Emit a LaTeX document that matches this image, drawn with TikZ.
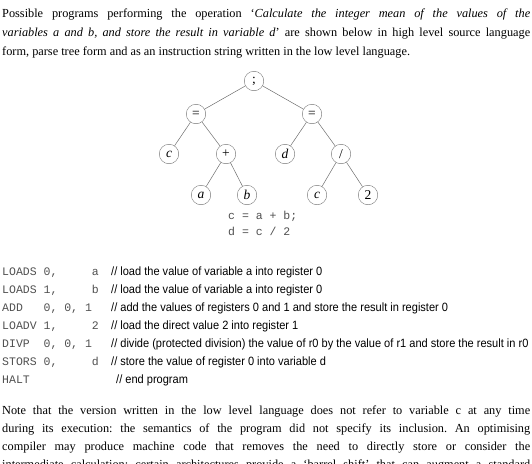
\documentclass[tikz,border=0pt]{standalone}
\usepackage{fontspec}
\setmainfont{Liberation Serif}
\setmonofont{Liberation Mono}
\newfontfamily\notefont[FakeStretch=0.92]{Liberation Sans}
\usetikzlibrary{positioning}
\definecolor{TreeGray}{RGB}{110,110,110}
\definecolor{CodeGray}{RGB}{80,80,80}

\begin{document}
\begin{tikzpicture}[x=1pt,y=-1pt,
        para/.style={anchor=base west,inner sep=0pt,text width=528pt,align=justify,
                     font=\fontsize{12.3}{19.2}\selectfont\frenchspacing},
        vertex/.style={circle,draw=TreeGray,inner sep=0pt,minimum size=19.5pt,
                       font=\fontsize{13.5}{13.5}\selectfont},
        edge/.style={draw=TreeGray,line width=0.5pt},
        code/.style={anchor=base west,inner sep=0pt,text=CodeGray,
                     font=\ttfamily\fontsize{11.5}{12}\selectfont},
        remark/.style={anchor=base west,inner sep=0pt,
                       font=\notefont\fontsize{12}{12}\selectfont}
      ]
        \useasboundingbox (0,0) rectangle (532,463);
        \clip (0,0) rectangle (532,463);

        % opening paragraph
        \node[para] (intro) at (2,17) {Possible programs performing the operation
          ‘\textit{Calculate the integer mean of the values of the}\linebreak
          \textit{variables a and b, and store the result in variable d}’ are shown below
          in high level source language\linebreak
          form, parse tree form and as an instruction string written in the low level language.};

        % parse tree
        \node[vertex] (seq) at (254,81) {;};
        \node[vertex] (eqL) at (196,114) {=};
        \node[vertex] (eqR) at (312,114) {=};
        \node[vertex] (c1) at (169,154) {\textit{c}};
        \node[vertex] (plus) at (226,154) {+};
        \node[vertex] (d1) at (285,154) {\textit{d}};
        \node[vertex] (div) at (341,154) {/};
        \node[vertex] (a1) at (201,195) {\textit{a}};
        \node[vertex] (b1) at (247,195) {\textit{b}};
        \node[vertex] (c2) at (317,195) {\textit{c}};
        \node[vertex] (two) at (368,195) {2};
        \draw[edge] (seq)--(eqL); \draw[edge] (seq)--(eqR);
        \draw[edge] (eqL)--(c1); \draw[edge] (eqL)--(plus);
        \draw[edge] (plus)--(a1); \draw[edge] (plus)--(b1);
        \draw[edge] (eqR)--(d1); \draw[edge] (eqR)--(div);
        \draw[edge] (div)--(c2); \draw[edge] (div)--(two);

        % source form
        \node[code] (src1) at (228,219) {c~=~a~+~b;};
        \node[code] (src2) at (228,235) {d~=~c~/~2};

        % low level listing
        \foreach \instr/\cmt [count=\k from 0] in {
            {LOADS~0,~~~~~a}/{// load the value of variable a into register 0},
            {LOADS~1,~~~~~b}/{// load the value of variable a into register 0},
            {ADD~~~0,~0,~1}/{// add the values of registers 0 and 1 and store the result in register 0},
            {LOADV~1,~~~~~2}/{// load the direct value 2 into register 1},
            {DIVP~~0,~0,~1}/{// divide (protected division) the value of r0 by the value of r1 and store the result in r0},
            {STORS~0,~~~~~d}/{// store the value of register 0 into variable d}}{
          \node[code] (op\k) at (2,{275+18*\k}) {\instr};
          \node[remark] (cm\k) at (111,{275+18*\k}) {\cmt};
        }
        \node[code] (op6) at (2,383) {HALT};
        \node[remark] (cm6) at (116,383) {// end program};

        % closing paragraph (its last line runs off the page)
        \node[para,font=\fontsize{12.3}{18.3}\selectfont\frenchspacing] (note) at (2,414)
          {Note that the version written in
          the low level language does not refer to variable c at any time\linebreak
          during its execution: the semantics of the program did not specify its inclusion.
          An optimising\linebreak
          compiler may produce machine code that removes the need to directly store or
          consider the\linebreak
          intermediate calculation: certain architectures provide a ‘barrel shift’ that can
          augment a standard\linebreak\mbox{}};
      \end{tikzpicture}
\end{document}
